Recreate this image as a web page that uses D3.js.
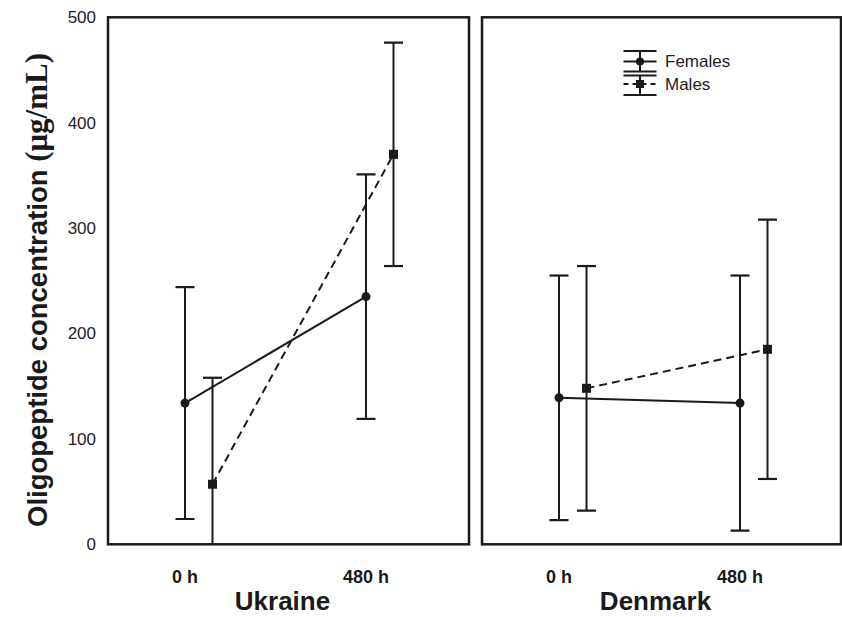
<!DOCTYPE html>
<html>
<head>
<meta charset="utf-8">
<script src="https://cdn.jsdelivr.net/npm/d3@7"></script>
<style>
body { margin: 0; background: #fff; }
svg { display: block; }
</style>
</head>
<body>
<div id="chart"></div>
<script>
// data (ug/mL, mean +- error)
var panels = ["Ukraine", "Denmark"];
var times = ["0 h", "480 h"];
var femalesMean = [[134, 235], [139, 134]];
var femalesLow = [[24, 119], [23, 13]];
var femalesHigh = [[244, 351], [255, 255]];
var malesMean = [[57, 370], [148, 185]];
var malesLow = [[-44, 264], [32, 62]];
var malesHigh = [[158, 476], [264, 308]];
var yTicks = [0, 100, 200, 300, 400, 500];

var W = 842, H = 617;
var ink = "#1a1a1a";
var panelX = [108, 482], panelW = [361, 359];
var plotTop = 17.3, plotBottom = 544.3;

var svg = d3.select("#chart").append("svg")
    .attr("width", W)
    .attr("height", H);

var y = d3.scaleLinear().domain([0, 500]).range([plotBottom, plotTop]);
var x = d3.scalePoint().domain(times).range([77, 258]);
var maleShift = 27.5;

// y tick labels (left panel only)
svg.selectAll(".ytick").data(yTicks).enter().append("text")
    .attr("x", 96)
    .attr("y", function(d) { return y(d); })
    .attr("dy", "0.35em")
    .attr("text-anchor", "end")
    .style("font-family", "Liberation Sans, Arial, sans-serif")
    .style("font-size", "17px")
    .style("fill", "#222")
    .text(function(d) { return d; });

// y title
var yt = svg.append("text")
    .attr("transform", "translate(47,527) rotate(-90)")
    .style("fill", ink);
yt.append("tspan")
    .style("font-family", "Liberation Sans, Arial, sans-serif")
    .style("font-weight", "bold")
    .style("font-size", "27.5px")
    .text("Oligopeptide concentration ");
yt.append("tspan")
    .style("font-family", "Liberation Serif, Times New Roman, serif")
    .style("font-weight", "bold")
    .style("font-size", "31px")
    .text("(μg/mL)");

var series = [
  {name: "Females", mean: femalesMean, low: femalesLow, high: femalesHigh, shift: 0, dash: null, shape: "circle"},
  {name: "Males", mean: malesMean, low: malesLow, high: malesHigh, shift: maleShift, dash: "8,5", shape: "square"}
];

panels.forEach(function(p, pi) {
  var g = svg.append("g").attr("transform", "translate(" + panelX[pi] + ",0)");

  g.append("clipPath").attr("id", "clip" + pi)
    .append("rect").attr("x", 0).attr("y", plotTop).attr("width", panelW[pi]).attr("height", plotBottom - plotTop);

  var plot = g.append("g").attr("clip-path", "url(#clip" + pi + ")");

  series.forEach(function(s) {
    var pts = times.map(function(t, i) {
      return {t: t, m: s.mean[pi][i], lo: s.low[pi][i], hi: s.high[pi][i]};
    });
    var px = function(d) { return x(d.t) + s.shift; };

    // error bars
    pts.forEach(function(d) {
      plot.append("line")
        .attr("x1", px(d)).attr("x2", px(d))
        .attr("y1", y(d.lo)).attr("y2", y(d.hi))
        .attr("stroke", ink).attr("stroke-width", 2);
      [d.lo, d.hi].forEach(function(v) {
        if (v < 0) return;
        plot.append("line")
          .attr("x1", px(d) - 9.5).attr("x2", px(d) + 9.5)
          .attr("y1", y(v)).attr("y2", y(v))
          .attr("stroke", ink).attr("stroke-width", 2.2);
      });
    });

    // connecting line
    plot.append("path")
      .attr("d", d3.line().x(px).y(function(d) { return y(d.m); })(pts))
      .attr("fill", "none")
      .attr("stroke", ink)
      .attr("stroke-width", 2)
      .attr("stroke-dasharray", s.dash);

    // markers
    pts.forEach(function(d) {
      if (s.shape == "circle") {
        plot.append("circle").attr("cx", px(d)).attr("cy", y(d.m)).attr("r", 4.5).attr("fill", ink);
      } else {
        plot.append("rect").attr("x", px(d) - 4.5).attr("y", y(d.m) - 4.5)
          .attr("width", 9).attr("height", 9).attr("fill", ink);
      }
    });
  });

  // frame
  g.append("rect")
    .attr("x", 0).attr("y", plotTop)
    .attr("width", panelW[pi]).attr("height", plotBottom - plotTop)
    .attr("fill", "none")
    .attr("stroke", ink)
    .attr("stroke-width", 2.5);

  // x tick labels
  g.selectAll(".xtick").data(times).enter().append("text")
    .attr("x", function(d) { return x(d); })
    .attr("y", 577)
    .attr("dy", "0.35em")
    .attr("text-anchor", "middle")
    .style("font-family", "Liberation Sans, Arial, sans-serif")
    .style("font-weight", "bold")
    .style("font-size", "18px")
    .style("fill", ink)
    .text(function(d) { return d; });

  // panel title
  g.append("text")
    .attr("x", panelW[pi] / 2 - 6)
    .attr("y", 601)
    .attr("dy", "0.35em")
    .attr("text-anchor", "middle")
    .style("font-family", "Liberation Sans, Arial, sans-serif")
    .style("font-weight", "bold")
    .style("font-size", "26px")
    .style("fill", ink)
    .text(p);
});

// legend (inside Denmark panel)
var leg = svg.append("g");
var legRows = [{s: series[0], cy: 61.5, c1: 51, c2: 71.5}, {s: series[1], cy: 84, c1: 75.5, c2: 95}];
legRows.forEach(function(r) {
  var lx = 640;
  leg.append("line").attr("x1", lx).attr("x2", lx).attr("y1", r.c1).attr("y2", r.c2)
    .attr("stroke", ink).attr("stroke-width", 2);
  [r.c1, r.c2].forEach(function(cy) {
    leg.append("line").attr("x1", lx - 16.5).attr("x2", lx + 16.5).attr("y1", cy).attr("y2", cy)
      .attr("stroke", ink).attr("stroke-width", 2);
  });
  leg.append("line").attr("x1", lx - 16.5).attr("x2", lx + 16.5).attr("y1", r.cy).attr("y2", r.cy)
    .attr("stroke", ink).attr("stroke-width", 2).attr("stroke-dasharray", r.s.dash ? "5,4" : null);
  if (r.s.shape == "circle") {
    leg.append("circle").attr("cx", lx).attr("cy", r.cy).attr("r", 4).attr("fill", ink);
  } else {
    leg.append("rect").attr("x", lx - 4).attr("y", r.cy - 4).attr("width", 8).attr("height", 8).attr("fill", ink);
  }
  leg.append("text")
    .attr("x", 665).attr("y", r.cy)
    .attr("dy", "0.35em")
    .style("font-family", "Liberation Sans, Arial, sans-serif")
    .style("font-size", "17px")
    .style("fill", "#222")
    .text(r.s.name);
});
</script>
</body>
</html>
